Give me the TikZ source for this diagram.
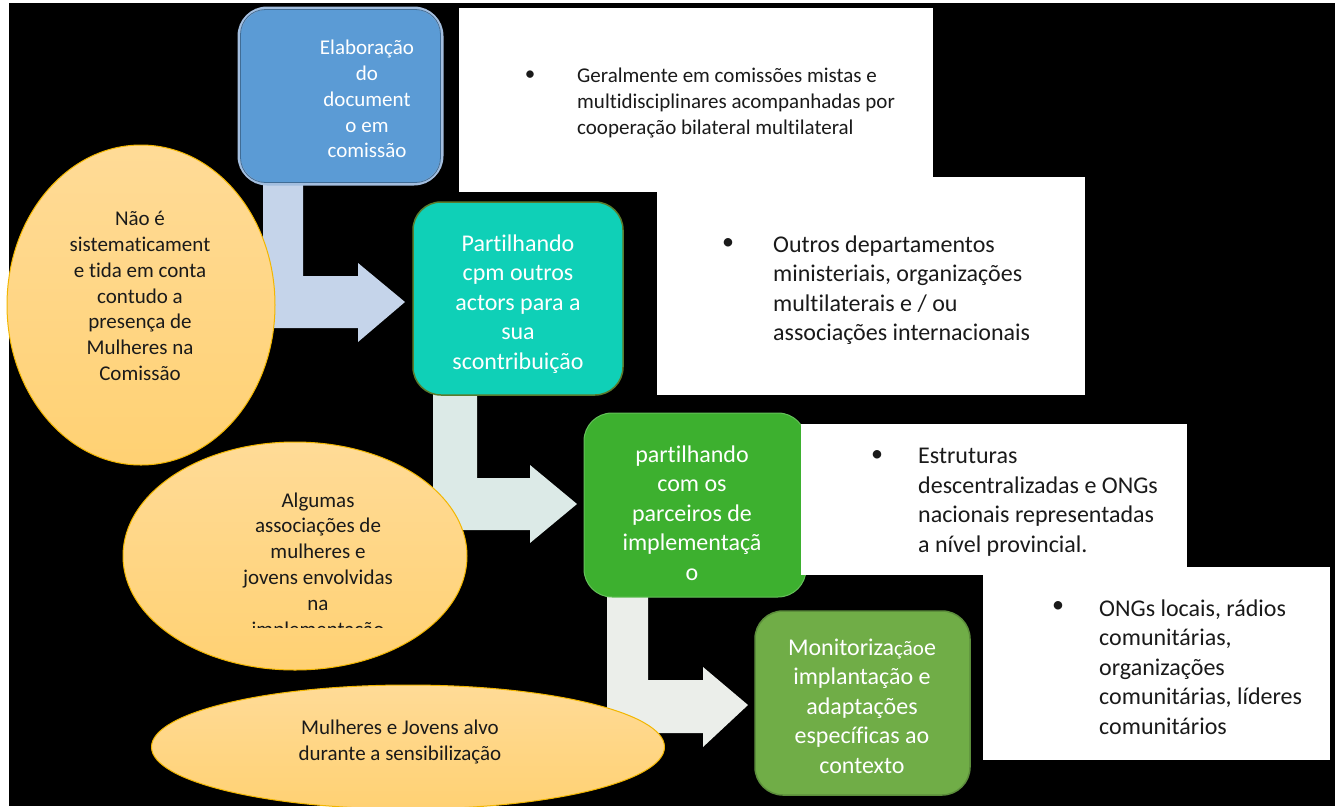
\documentclass[tikz,border=0pt]{standalone}
\usepackage{fontspec}
\setmainfont{Carlito}[Ligatures={NoCommon}]
\usetikzlibrary{shapes.geometric}
\definecolor{bluefill}{HTML}{5B9BD5}
\definecolor{blueedge}{HTML}{A3BEDF}
\definecolor{tealfill}{HTML}{0FD0B7}
\definecolor{tealedge}{HTML}{5A7B2C}
\definecolor{greenA}{HTML}{3DB02F}
\definecolor{greenB}{HTML}{70AD47}
\definecolor{greenBedge}{HTML}{5C8E3B}
\definecolor{arrowA}{HTML}{C5D4EA}
\definecolor{arrowB}{HTML}{DCEAE7}
\definecolor{arrowC}{HTML}{EBEEEA}
\definecolor{ellTop}{HTML}{FFDB97}
\definecolor{ellBot}{HTML}{FFD173}
\definecolor{ellEdge}{HTML}{F2B600}
\definecolor{ink}{HTML}{1A1A1A}
\tikzset{
  stepbox/.style={rounded corners=28pt, inner sep=0pt},
  oval/.style={ellipse, draw=ellEdge, line width=1pt, top color=ellTop, bottom color=ellBot, inner sep=0pt},
  whitetxt/.style={text=white, align=center, inner sep=0pt},
  darktxt/.style={text=ink, align=center, inner sep=0pt},
  listtxt/.style={text=ink, align=left, anchor=west, inner sep=0pt},
  bul/.style={text=ink, inner sep=0pt},
  fA/.style={font=\fontsize{21}{25.8}\selectfont},
  fB/.style={font=\fontsize{24}{29.5}\selectfont},
}
\begin{document}
\begin{tikzpicture}[x=1pt,y=-1pt]
\useasboundingbox (0,0) rectangle (1335,806);
\fill[white] (0,0) rectangle (1335,806);
\fill[black] (9,3) rectangle (1335,806);

% bent arrows
\fill[arrowA] (263,185) -- (303,185) -- (303,276) -- (358,276) -- (358,263) -- (405,302) -- (358,342) -- (358,328) -- (263,328) -- cycle;
\fill[arrowB] (433,393) -- (477,393) -- (477,478) -- (530,478) -- (530,465) -- (577,504) -- (530,543) -- (530,530) -- (433,530) -- cycle;
\fill[arrowC] (607,595) -- (648,595) -- (648,680) -- (703,680) -- (703,667) -- (748,705) -- (703,747) -- (703,733) -- (607,733) -- cycle;

% process boxes
\node[stepbox, fill=bluefill, draw=blueedge, line width=3pt, minimum width=203pt, minimum height=176pt] (b1) at (340.5,96) {};
\draw[rounded corners=25pt, draw=bluefill!70!black, line width=0.8pt] ([shift={(3pt,3pt)}]b1.south west) rectangle ([shift={(-3pt,-3pt)}]b1.north east);
\node[whitetxt, fA] (b1t) at (367,99) {Elaboração\\do\\document\\o em\\comissão};

\node[stepbox, fill=tealfill, draw=tealedge, line width=1.5pt, minimum width=210pt, minimum height=193pt] (b2) at (518,298.5) {};
\node[whitetxt, fB] (b2t) at (518,304) {Partilhando\\cpm outros\\actors para a\\sua\\scontribuição};

\node[stepbox, fill=greenA, draw=greenA!80!white, line width=1pt, minimum width=222pt, minimum height=184pt] (b3) at (695,505) {};
\node[whitetxt, fB] (b3t) at (692,513) {partilhando\\com os\\parceiros de\\implementaçã\\o};

\node[stepbox, fill=greenB, draw=greenBedge, line width=1.5pt, minimum width=215pt, minimum height=184pt] (b4) at (862.5,703) {};
\node[whitetxt, fB] (b4t) at (862,706) {Monitoriza{\fontsize{21}{25}\selectfont ção}e\\implantação e\\adaptações\\específicas ao\\contexto};

% white panels
\fill[white] (459,8) rectangle (933,192);
\fill[white] (657,177) rectangle (1085,395);
\fill[white] (801,424) rectangle (1187,575);
\fill[white] (983,567) rectangle (1330,760);

\node[bul, fA] (p1b) at (530,76) {\textbullet};
\node[listtxt, fA] (p1t) at (577,103) {Geralmente em comissões mistas e\\multidisciplinares acompanhadas por\\cooperação bilateral multilateral};

\node[bul, fB] (p2b) at (728,244) {\textbullet};
\node[listtxt, fB] (p2t) at (773,290) {Outros departamentos\\ministeriais, organizações\\multilaterais e / ou\\associações internacionais};

\node[bul, fB] (p3b) at (877,456) {\textbullet};
\node[listtxt, fB] (p3t) at (918,502) {Estruturas\\descentralizadas e ONGs\\nacionais representadas\\a nível provincial.};

\node[bul, fB] (p4b) at (1058,607) {\textbullet};
\node[listtxt, fB] (p4t) at (1099,667) {ONGs locais, rádios\\comunitárias,\\organizações\\comunitárias, líderes\\comunitários};

% ovals
\node[oval, minimum width=268pt, minimum height=320pt] (e1) at (141,305) {};
\node[darktxt, fA] (e1t) at (140,296) {Não é\\sistematicament\\e tida em conta\\contudo a\\presença de\\Mulheres na\\Comissão};

\node[oval, minimum width=344pt, minimum height=228pt] (e2) at (295,556) {};
\begin{scope}
\clip (120,470) rectangle (470,627);
\node[darktxt, fA] (e2t) at (318,566) {Algumas\\associações de\\mulheres e\\jovens envolvidas\\na\\implementação};
\end{scope}

\node[oval, minimum width=513pt, minimum height=124pt] (e3) at (408,747) {};
\node[darktxt, fA] (e3t) at (400,742) {Mulheres e Jovens alvo\\durante a sensibilização};
\end{tikzpicture}
\end{document}
